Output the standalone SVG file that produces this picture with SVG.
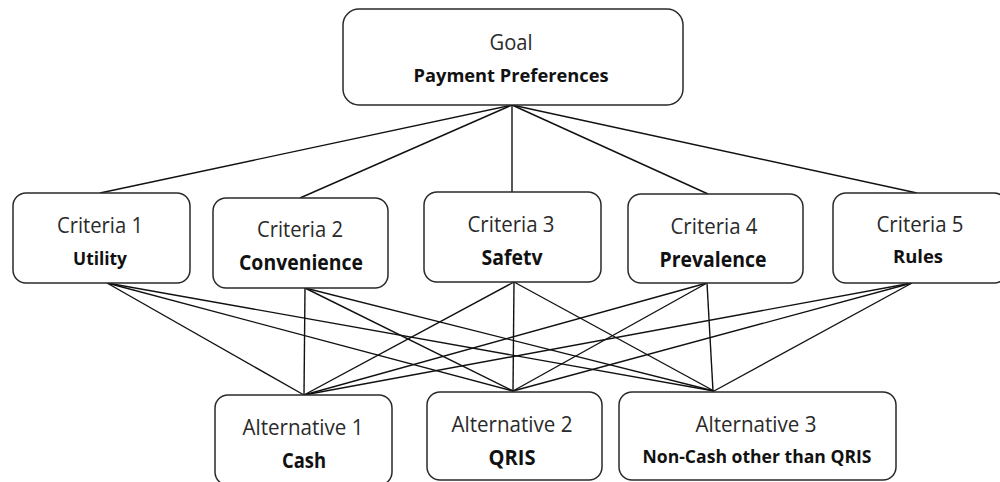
<svg xmlns="http://www.w3.org/2000/svg" width="1000" height="482" viewBox="0 0 1000 482">
<style>
.box{fill:#fff;stroke:#2a2a2a;stroke-width:1.5}
.ln{stroke:#111;stroke-width:1.4;fill:none}
.t{font-family:"Open Sans","Noto Sans",sans-serif;font-size:22px;fill:#2a2a2a;text-anchor:middle}
.b{font-family:"Open Sans","Noto Sans",sans-serif;font-size:21px;font-weight:bold;fill:#111;text-anchor:middle}
.bs{font-family:"Open Sans","Noto Sans",sans-serif;font-size:18.5px;font-weight:bold;fill:#111;text-anchor:middle}
</style>
<rect width="1000" height="482" fill="#fff"/>
<g id="connectors">
<line class="ln" x1="512" y1="105" x2="100" y2="193"/>
<line class="ln" x1="512" y1="105" x2="300" y2="198"/>
<line class="ln" x1="512" y1="105" x2="512" y2="192"/>
<line class="ln" x1="512" y1="105" x2="708" y2="194"/>
<line class="ln" x1="512" y1="105" x2="917" y2="193"/>
<line class="ln" x1="107" y1="283" x2="304" y2="395"/>
<line class="ln" x1="107" y1="283" x2="513" y2="391"/>
<line class="ln" x1="107" y1="283" x2="714" y2="391"/>
<line class="ln" x1="305" y1="288" x2="304" y2="395"/>
<line class="ln" x1="305" y1="288" x2="513" y2="391"/>
<line class="ln" x1="305" y1="288" x2="714" y2="391"/>
<line class="ln" x1="514" y1="282" x2="304" y2="395"/>
<line class="ln" x1="514" y1="282" x2="513" y2="391"/>
<line class="ln" x1="514" y1="282" x2="714" y2="391"/>
<line class="ln" x1="707" y1="283" x2="304" y2="395"/>
<line class="ln" x1="707" y1="283" x2="513" y2="391"/>
<line class="ln" x1="707" y1="283" x2="713" y2="391"/>
<line class="ln" x1="912" y1="283" x2="304" y2="395"/>
<line class="ln" x1="912" y1="283" x2="513" y2="391"/>
<line class="ln" x1="912" y1="283" x2="714" y2="391"/>
</g>
<g id="goal">
<rect class="box" x="343" y="9" width="340" height="96" rx="16"/>
<text class="t" x="511" y="50" font-size="23" textLength="43" lengthAdjust="spacingAndGlyphs">Goal</text>
<text class="bs" x="511" y="82" textLength="195" lengthAdjust="spacingAndGlyphs">Payment Preferences</text>
</g>
<g id="criteria1">
<rect class="box" x="13" y="193" width="177" height="90" rx="13"/>
<text class="t" x="100" y="233" textLength="86" lengthAdjust="spacingAndGlyphs">Criteria 1</text>
<text class="bs" x="100" y="265" textLength="54" lengthAdjust="spacingAndGlyphs">Utility</text>
</g>
<g id="criteria2">
<rect class="box" x="213" y="198" width="175" height="90" rx="13"/>
<text class="t" x="300" y="237" textLength="86" lengthAdjust="spacingAndGlyphs">Criteria 2</text>
<text class="b" x="301" y="270" textLength="124" lengthAdjust="spacingAndGlyphs">Convenience</text>
</g>
<g id="criteria3">
<rect class="box" x="424" y="192" width="177" height="90" rx="13"/>
<text class="t" x="511" y="232" textLength="87" lengthAdjust="spacingAndGlyphs">Criteria 3</text>
<text class="b" x="512" y="265" textLength="61" lengthAdjust="spacingAndGlyphs">Safetv</text>
</g>
<g id="criteria4">
<rect class="box" x="628" y="194" width="175" height="89" rx="13"/>
<text class="t" x="714" y="234" textLength="87" lengthAdjust="spacingAndGlyphs">Criteria 4</text>
<text class="b" x="713" y="267" textLength="107" lengthAdjust="spacingAndGlyphs">Prevalence</text>
</g>
<g id="criteria5">
<rect class="box" x="833" y="193" width="174" height="90" rx="13"/>
<text class="t" x="920" y="232" textLength="87" lengthAdjust="spacingAndGlyphs">Criteria 5</text>
<text class="bs" x="918" y="263" textLength="50" lengthAdjust="spacingAndGlyphs">Rules</text>
</g>
<g id="alternative1">
<rect class="box" x="215" y="395" width="177" height="90" rx="13"/>
<text class="t" x="303" y="435" textLength="121" lengthAdjust="spacingAndGlyphs">Alternative 1</text>
<text class="b" x="304" y="468" textLength="44" lengthAdjust="spacingAndGlyphs">Cash</text>
</g>
<g id="alternative2">
<rect class="box" x="427" y="392" width="175" height="88" rx="13"/>
<text class="t" x="512" y="432" textLength="121" lengthAdjust="spacingAndGlyphs">Alternative 2</text>
<text class="b" x="512" y="465" textLength="47" lengthAdjust="spacingAndGlyphs">QRIS</text>
</g>
<g id="alternative3">
<rect class="box" x="619" y="392" width="277" height="88" rx="13"/>
<text class="t" x="756" y="432" textLength="121" lengthAdjust="spacingAndGlyphs">Alternative 3</text>
<text class="bs" x="757" y="463" textLength="229" lengthAdjust="spacingAndGlyphs">Non-Cash other than QRIS</text>
</g>
</svg>
